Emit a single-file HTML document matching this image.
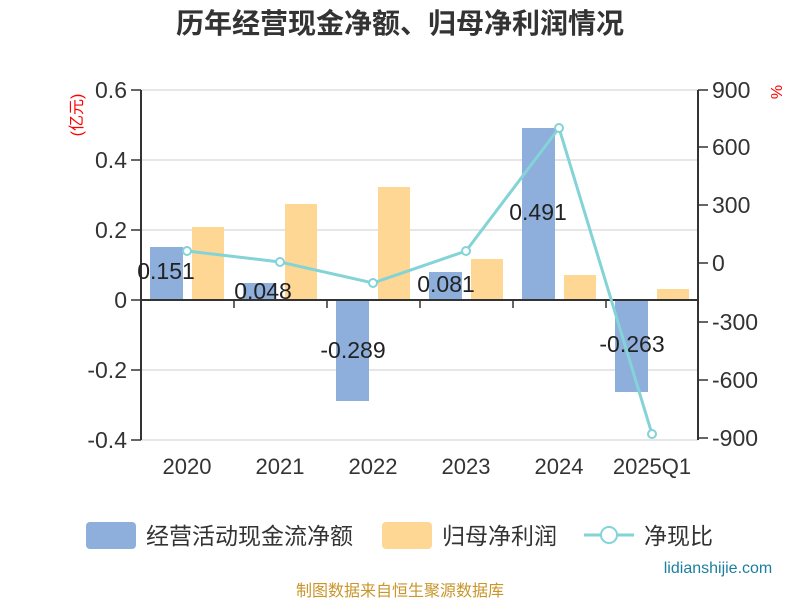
<!DOCTYPE html><html><head><meta charset="utf-8"><style>body{margin:0;background:#fff}svg{display:block}text{font-family:"Liberation Sans","Noto Sans CJK SC",sans-serif}</style></head><body>
<svg width="800" height="600" xmlns="http://www.w3.org/2000/svg">
<text x="400" y="33" text-anchor="middle" font-size="28" font-weight="bold" fill="#333">历年经营现金净额、归母净利润情况</text>
<g stroke="#ccc" stroke-width="1">
<line x1="141" y1="90" x2="698" y2="90"/><line x1="141" y1="160" x2="698" y2="160"/><line x1="141" y1="230" x2="698" y2="230"/><line x1="141" y1="370" x2="698" y2="370"/><line x1="141" y1="440" x2="698" y2="440"/>
</g>
<g fill="#8eaedc">
<rect x="150" y="247" width="33" height="53"/><rect x="243" y="283" width="33" height="17"/><rect x="336" y="300" width="33" height="101"/><rect x="429" y="272" width="33" height="28"/><rect x="522" y="128" width="33" height="172"/><rect x="615" y="300" width="33" height="92"/>
</g>
<g fill="#ffd794">
<rect x="192" y="227" width="32" height="73"/><rect x="285" y="204" width="32" height="96"/><rect x="378" y="187" width="32" height="113"/><rect x="471" y="259" width="32" height="41"/><rect x="564" y="275" width="32" height="25"/><rect x="657" y="289" width="32" height="11"/>
</g>
<g stroke="#333" stroke-width="2" fill="none">
<line x1="141" y1="90" x2="141" y2="440"/><line x1="698" y1="90" x2="698" y2="440"/>
<line x1="141" y1="300" x2="698" y2="300"/>
</g>
<g stroke="#333" stroke-width="1.5">
<line x1="131" y1="90" x2="141" y2="90"/><line x1="131" y1="160" x2="141" y2="160"/><line x1="131" y1="230" x2="141" y2="230"/><line x1="131" y1="300" x2="141" y2="300"/><line x1="131" y1="370" x2="141" y2="370"/><line x1="131" y1="440" x2="141" y2="440"/>
<line x1="698" y1="90" x2="708" y2="90"/><line x1="698" y1="147" x2="708" y2="147"/><line x1="698" y1="205" x2="708" y2="205"/><line x1="698" y1="263" x2="708" y2="263"/><line x1="698" y1="322" x2="708" y2="322"/><line x1="698" y1="380" x2="708" y2="380"/><line x1="698" y1="438" x2="708" y2="438"/>
<line x1="234" y1="300" x2="234" y2="308"/><line x1="327" y1="300" x2="327" y2="308"/><line x1="420" y1="300" x2="420" y2="308"/><line x1="513" y1="300" x2="513" y2="308"/><line x1="606" y1="300" x2="606" y2="308"/>
</g>
<g font-size="23" fill="#333" text-anchor="end">
<text x="127" y="98">0.6</text><text x="127" y="168">0.4</text><text x="127" y="238">0.2</text><text x="127" y="308">0</text><text x="127" y="378">-0.2</text><text x="127" y="448">-0.4</text>
</g>
<g font-size="23" fill="#333" text-anchor="start">
<text x="712" y="98">900</text><text x="712" y="155">600</text><text x="712" y="213">300</text><text x="712" y="271">0</text><text x="712" y="330">-300</text><text x="712" y="388">-600</text><text x="712" y="446">-900</text>
</g>
<text transform="translate(82,115) rotate(-90)" font-size="16" fill="red" text-anchor="middle">(亿元)</text>
<text transform="translate(782,92) rotate(-90)" font-size="16" fill="red" text-anchor="middle">%</text>
<g font-size="22" fill="#333" text-anchor="middle">
<text x="187" y="474">2020</text><text x="280" y="474">2021</text><text x="373" y="474">2022</text><text x="466" y="474">2023</text><text x="559" y="474">2024</text><text x="652" y="474">2025Q1</text>
</g>
<g font-size="23" fill="#222" text-anchor="middle">
<text x="166" y="279">0.151</text><text x="263" y="299">0.048</text><text x="353" y="358">-0.289</text><text x="446" y="292">0.081</text><text x="538" y="220">0.491</text><text x="632" y="352">-0.263</text>
</g>
<polyline points="187,251 280,262 373,283 466,251 559,128 652,434" fill="none" stroke="#84d3d6" stroke-width="3"/>
<g fill="#fff" stroke="#84d3d6" stroke-width="2">
<circle cx="187" cy="251" r="4"/><circle cx="280" cy="262" r="4"/><circle cx="373" cy="283" r="4"/><circle cx="466" cy="251" r="4"/><circle cx="559" cy="128" r="4"/><circle cx="652" cy="434" r="4"/>
</g>
<rect x="86" y="522" width="50" height="27" rx="4" fill="#8eaedc"/>
<text x="146" y="544" font-size="23" fill="#333">经营活动现金流净额</text>
<rect x="382" y="522" width="50" height="27" rx="4" fill="#ffd794"/>
<text x="442" y="544" font-size="23" fill="#333">归母净利润</text>
<line x1="584" y1="535" x2="634" y2="535" stroke="#84d3d6" stroke-width="3"/>
<circle cx="609" cy="535" r="8" fill="#fff" stroke="#84d3d6" stroke-width="2"/>
<text x="644" y="544" font-size="23" fill="#333">净现比</text>
<text x="718" y="573" font-size="16" fill="#1a7fa0" text-anchor="middle">lidianshijie.com</text>
<text x="400" y="596" font-size="16" fill="#c8962a" text-anchor="middle">制图数据来自恒生聚源数据库</text>
</svg></body></html>
